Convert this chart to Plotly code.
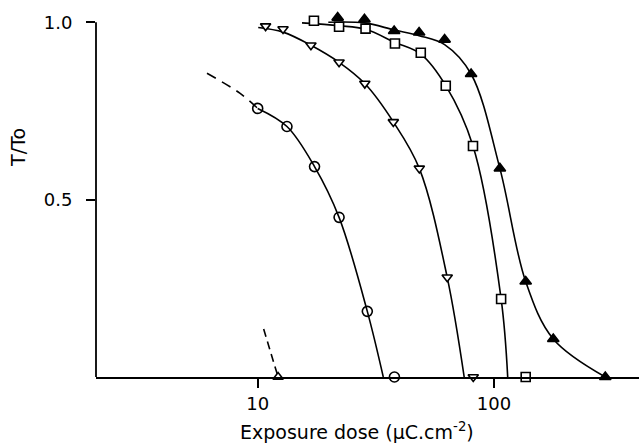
import plotly.graph_objects as go

# ---- data ----
# open circles
circ_x = [10.0, 13.3, 17.4, 22.1, 29.1, 37.9]
circ_y = [0.757, 0.706, 0.593, 0.450, 0.185, 0.0]
circ_curve_x = [10.0, 13.3, 17.4, 22.1, 29.1, 34.0]
circ_curve_y = [0.757, 0.706, 0.593, 0.450, 0.185, 0.0]
circ_dash_x = [6.1, 8.4, 10.0]
circ_dash_y = [0.856, 0.800, 0.757]

# open up-triangle
tri_x = [12.2]
tri_y = [0.0]
tri_dash_x = [10.6, 12.2]
tri_dash_y = [0.135, 0.0]

# open down-triangles
dtri_x = [10.8, 12.8, 16.8, 22.1, 28.4, 37.5, 48.3, 63.4, 81.7]
dtri_y = [0.989, 0.981, 0.935, 0.887, 0.827, 0.719, 0.588, 0.281, 0.0]
dtri_curve_x = [10.05, 12.8, 16.8, 22.1, 28.4, 37.5, 48.3, 63.4, 74.8]
dtri_curve_y = [0.985, 0.972, 0.935, 0.887, 0.827, 0.719, 0.588, 0.281, 0.0]

# open squares
sq_x = [17.3, 22.1, 28.6, 38.1, 49.0, 62.5, 81.5, 107.2, 136.2]
sq_y = [1.004, 0.987, 0.982, 0.940, 0.914, 0.821, 0.651, 0.220, 0.0]
sq_curve_x = [15.4, 22.1, 28.6, 38.1, 49.0, 62.5, 81.5, 107.2, 114.3]
sq_curve_y = [0.998, 0.990, 0.980, 0.943, 0.910, 0.821, 0.651, 0.220, 0.0]

# filled up-triangles
ftri_x = [21.8, 28.3, 37.8, 48.2, 61.8, 80.0, 105.9, 136.2, 178.2, 295.8]
ftri_y = [1.013, 1.008, 0.975, 0.971, 0.951, 0.854, 0.588, 0.269, 0.107, 0.0]
ftri_curve_x = [19.9, 28.3, 37.8, 48.2, 61.8, 80.0, 105.9, 136.2, 178.2, 295.8]
ftri_curve_y = [1.000, 0.998, 0.978, 0.962, 0.937, 0.854, 0.588, 0.269, 0.107, 0.0]

x_tickvals = [10, 100]
x_ticktext = ["10", "100"]
y_tickvals = [0.5, 1.0]
y_ticktext = ["0.5", "1.0"]

FONT = "DejaVu Sans"
LW = 1.6

fig = go.Figure()

def curve(x, y, dash="solid"):
    fig.add_trace(go.Scatter(x=x, y=y, mode="lines",
                             line=dict(color="black", width=LW, dash=dash,
                                       shape="spline", smoothing=1.0),
                             hoverinfo="skip", showlegend=False))

def marks(x, y, symbol, fill="white", size=9):
    fig.add_trace(go.Scatter(x=x, y=y, mode="markers", cliponaxis=False,
                             marker=dict(symbol=symbol, size=size, color=fill,
                                         line=dict(color="black", width=1.6)),
                             showlegend=False))

curve(circ_dash_x, circ_dash_y, dash="10px,7px")
curve(tri_dash_x, tri_dash_y, dash="8px,5px")
curve(circ_curve_x, circ_curve_y)
curve(dtri_curve_x, dtri_curve_y)
curve(sq_curve_x, sq_curve_y)
curve(ftri_curve_x, ftri_curve_y)

marks(circ_x, circ_y, "circle-open", fill="black", size=10)
marks(tri_x, tri_y, "triangle-up", size=9)
marks(dtri_x, dtri_y, "triangle-down", size=9)
marks(sq_x, sq_y, "square", size=9)
marks(ftri_x, ftri_y, "triangle-up", fill="black", size=10)

# y-axis line from 0 to 1 only
fig.add_shape(type="line", xref="paper", yref="y", x0=0, x1=0, y0=0, y1=1.0,
              line=dict(color="black", width=1.8))

fig.add_annotation(text="T/To", xref="paper", yref="paper", x=-0.144, y=0.623,
                   xanchor="center", yanchor="middle",
                   textangle=-90, showarrow=False,
                   font=dict(family=FONT, size=19, color="black"))

fig.add_annotation(text="Exposure dose (µC.cm<sup>-2</sup>)", xref="paper", yref="paper",
                   x=0.481, y=-0.146, xanchor="center", yanchor="middle",
                   showarrow=False,
                   font=dict(family=FONT, size=19, color="black"))

fig.update_layout(
    width=639, height=444,
    margin=dict(l=96, r=0, t=8, b=67),
    paper_bgcolor="white", plot_bgcolor="white",
    font=dict(family=FONT, size=18, color="black"),
    xaxis=dict(type="log", range=[0.3157, 2.6137],
               tickvals=x_tickvals, ticktext=x_ticktext,
               ticks="outside", ticklen=9, tickwidth=1.5, tickcolor="black",
               showline=True, linecolor="black", linewidth=1.8,
               showgrid=False, zeroline=False),
    yaxis=dict(range=[0, 1.04], tickvals=y_tickvals, ticktext=y_ticktext,
               ticks="outside", ticklen=9, tickwidth=1.5, tickcolor="black",
               showline=False, showgrid=False, zeroline=False,
               ticklabelstandoff=10),
)

fig.write_html("out.html")
